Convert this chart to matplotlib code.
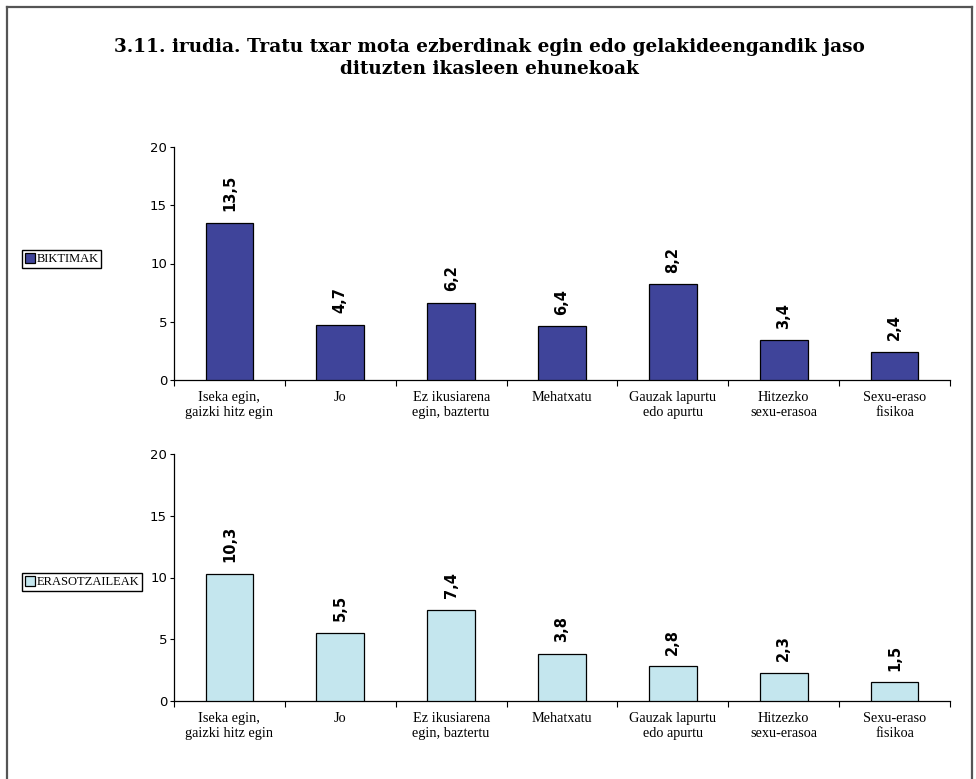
import matplotlib
matplotlib.use('Agg')
import matplotlib.pyplot as plt
from matplotlib.lines import Line2D

categories = ['Iseka egin,\ngaizki hitz egin', 'Jo', 'Ez ikusiarena\negin, baztertu',
              'Mehatxatu', 'Gauzak lapurtu\nedo apurtu', 'Hitzezko\nsexu-erasoa',
              'Sexu-eraso\nfisikoa']

# bar heights as drawn in the picture, and the printed labels
biktimak = [13.5, 4.7, 6.6, 4.6, 8.2, 3.4, 2.4]
biktimak_labels = ['13,5', '4,7', '6,2', '6,4', '8,2', '3,4', '2,4']
erasotzaileak = [10.3, 5.5, 7.4, 3.8, 2.8, 2.3, 1.5]
erasotzaileak_labels = ['10,3', '5,5', '7,4', '3,8', '2,8', '2,3', '1,5']
yticks = [0, 5, 10, 15, 20]

title = '3.11. irudia. Tratu txar mota ezberdinak egin edo gelakideengandik jaso\ndituzten ikasleen ehunekoak'

W, H = 976, 779
fig = plt.figure(figsize=(W / 100, H / 100), dpi=100)

# frame around the page
fr = dict(color='#555555', lw=1.6, transform=fig.transFigure)
fig.add_artist(Line2D([7 / W, 7 / W], [0, 1 - 7 / H], **fr))
fig.add_artist(Line2D([7 / W, 972 / W], [1 - 7 / H, 1 - 7 / H], **fr))
fig.add_artist(Line2D([972 / W, 972 / W], [0, 1 - 7 / H], **fr))

fig.text(489 / W, 1 - 58 / H, title, ha='center', va='center', fontsize=13.3,
         fontweight='bold', family='DejaVu Serif', linespacing=1.3)


def panel(rect, values, labels, color, name, legend_y):
    ax = fig.add_axes(rect)
    x = list(range(len(values)))
    bars = ax.bar(x, values, width=0.43, color=color, edgecolor='black', linewidth=0.9,
                  label=name, zorder=3)
    for xi, v, lab in zip(x, values, labels):
        ax.annotate(lab, (xi, v), xytext=(0, 8.5), textcoords='offset points',
                    rotation=90, ha='center', va='bottom', fontsize=10.5,
                    fontweight='bold', family='DejaVu Sans')
    ax.set_xlim(-0.5, len(values) - 0.5)
    ax.set_ylim(0, 20)
    ax.set_yticks(yticks)
    ax.set_yticklabels([str(t) for t in yticks], family='DejaVu Sans', fontsize=9.5)
    ax.set_xticks([i - 0.5 for i in range(len(values) + 1)])
    ax.set_xticklabels([])
    ax.set_xticks(x, minor=True)
    ax.set_xticklabels(categories, minor=True, family='Liberation Serif', fontsize=10.3)
    ax.tick_params(axis='x', which='minor', length=0, pad=8)
    ax.tick_params(axis='x', which='major', length=4, direction='out')
    ax.tick_params(axis='y', length=3, direction='out', pad=2)
    for s in ['top', 'right']:
        ax.spines[s].set_visible(False)
    for s in ['left', 'bottom']:
        ax.spines[s].set_linewidth(0.9)
    fig.legend(handles=[bars], labels=[name], loc='center left',
               bbox_to_anchor=(22 / W, 1 - legend_y / H), frameon=True, fancybox=False,
               edgecolor='black', framealpha=1, borderpad=0.2, handlelength=0.8,
               handleheight=0.8, handletextpad=0.15, borderaxespad=0,
               prop={'family': 'Liberation Serif', 'size': 9.0})
    return ax


panel([174 / W, 1 - 380 / H, 776 / W, 233 / H], biktimak, biktimak_labels,
      '#3F449A', 'BIKTIMAK', 259)
panel([174 / W, 1 - 701 / H, 776 / W, 247 / H], erasotzaileak, erasotzaileak_labels,
      '#C4E6EE', 'ERASOTZAILEAK', 582)

fig.savefig('out.png', dpi=100)
